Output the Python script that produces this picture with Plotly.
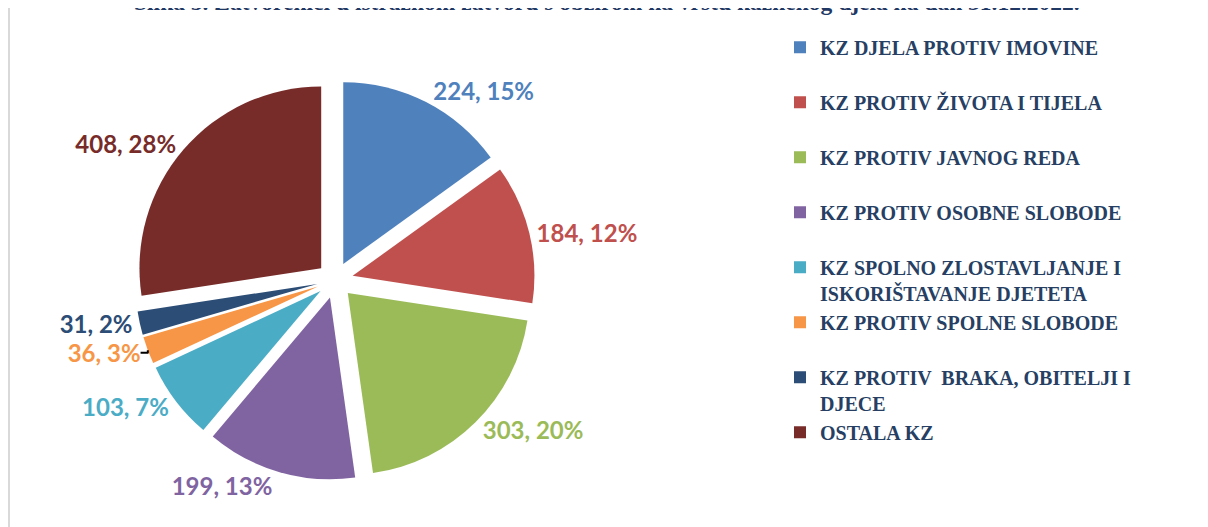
import plotly.graph_objects as go

categories = [
    "KZ DJELA PROTIV IMOVINE",
    "KZ PROTIV ŽIVOTA I TIJELA",
    "KZ PROTIV JAVNOG REDA",
    "KZ PROTIV OSOBNE SLOBODE",
    "KZ SPOLNO ZLOSTAVLJANJE I<br>ISKORIŠTAVANJE DJETETA",
    "KZ PROTIV SPOLNE SLOBODE",
    "KZ PROTIV  BRAKA, OBITELJI I<br>DJECE",
    "OSTALA KZ",
]
values = [224, 184, 303, 199, 103, 36, 31, 408]
pct_labels = ["15%", "12%", "20%", "13%", "7%", "3%", "2%", "28%"]
colors = ["#4F81BD", "#C0504D", "#9BBB59", "#8064A2", "#4BACC6", "#F79646", "#2C4D75", "#772C2A"]

title_text = "Slika 5. Zatvorenici u istražnom zatvoru s obzirom na vrstu kaznenog djela na dan 31.12.2022."

# legend entries padded to two lines so spacing resembles the original
legend_labels = [c if "<br>" in c else c + "<br> " for c in categories]

W, H = 1200, 519  # page body has an 8px margin

fig = go.Figure(
    go.Pie(
        labels=legend_labels,
        values=values,
        text=pct_labels,
        texttemplate="%{value}, %{text}",
        textposition="outside",
        textfont=dict(family="Lato", size=24, color=colors, weight="bold"),
        marker=dict(colors=colors, line=dict(width=0)),
        sort=False,
        direction="clockwise",
        rotation=0,
        pull=[0.1] * len(values),
        domain=dict(x=[0.0, 0.545], y=[0.0906, 0.861]),
        hoverinfo="label+value",
        automargin=False,
    )
)

fig.update_layout(
    width=W,
    height=H,
    margin=dict(l=0, r=0, t=0, b=0, autoexpand=False),
    paper_bgcolor="white",
    plot_bgcolor="white",
    showlegend=True,
    legend=dict(
        x=772 / W,
        xanchor="left",
        y=1 - 19.7 / H,
        yanchor="top",
        valign="top",
        font=dict(family="Liberation Serif", size=20, color="#263F63", weight="bold"),
        bgcolor="rgba(0,0,0,0)",
        borderwidth=0,
    ),
    shapes=[
        dict(
            type="rect",
            xref="paper",
            yref="paper",
            x0=1 / W,
            x1=1.05,
            y0=-0.1,
            y1=1 + 1 / H,
            line=dict(color="#D9D9D9", width=2),
            fillcolor="rgba(0,0,0,0)",
            layer="below",
        )
    ],
    annotations=[
        dict(
            text=title_text,
            xref="paper",
            yref="paper",
            x=599 / W,
            y=1,
            xanchor="center",
            yanchor="middle",
            yshift=6,
            showarrow=False,
            font=dict(family="Liberation Serif", size=23.5, color="#1F3864", weight="bold"),
        )
    ],
)

fig.write_html("out.html")
